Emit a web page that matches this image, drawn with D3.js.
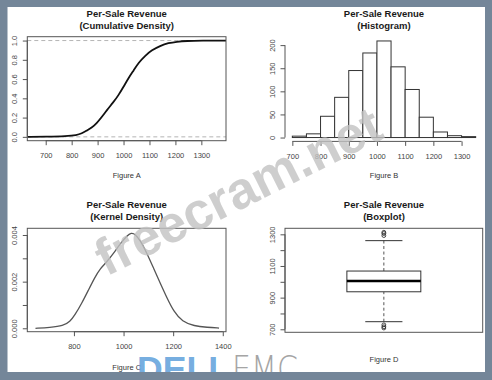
<!DOCTYPE html>
<html>
<head>
<meta charset="UTF-8">
<title>Per-Sale Revenue</title>
<script src="https://cdn.jsdelivr.net/npm/d3@7"></script>
<style>
body {
  margin: 0;
  background: #fff;
}
svg {
  display: block;
  font-family: "Liberation Sans", Arial, sans-serif;
}
.title {
  font-weight: bold;
  font-size: 9.5px;
  fill: #1a1a1a;
  text-anchor: middle;
}
.fig {
  font-size: 7.5px;
  fill: #333;
  text-anchor: middle;
}
.frame {
  fill: none;
  stroke: #555;
  stroke-width: 1;
}
.axis text {
  font-size: 7.5px;
  fill: #444;
  font-family: "Liberation Sans", Arial, sans-serif;
}
.axis line, .axis .spine {
  stroke: #555;
  stroke-width: 1;
}
</style>
</head>
<body>
<svg width="492" height="380"></svg>
<script>
// Figure A : empirical cumulative density
var cdfRevenue = [630, 700, 781, 819, 839, 858, 877, 896, 916, 935, 961, 980, 1000, 1019, 1039, 1058, 1084, 1109, 1141, 1173, 1205, 1243, 1300, 1395];
var cdfShare   = [0, 0.002, 0.007, 0.017, 0.035, 0.065, 0.094, 0.14, 0.205, 0.275, 0.36, 0.43, 0.52, 0.61, 0.69, 0.77, 0.845, 0.9, 0.945, 0.975, 0.988, 0.996, 0.999, 1.0];

// Figure B : histogram, bins of 50
var binStart = [700, 750, 800, 850, 900, 950, 1000, 1050, 1100, 1150, 1200, 1250, 1300];
var binCount = [3, 8, 46, 87, 145, 183, 209, 153, 104, 44, 12, 4, 2];

// Figure C : kernel density
var densRevenue = [645, 703, 757, 784, 804, 831, 858, 885, 905, 932, 959, 986, 1014, 1031, 1047, 1068, 1095, 1122, 1149, 1176, 1203, 1237, 1284, 1338, 1385];
var densValue   = [0, 0.00004, 0.0001, 0.00028, 0.00057, 0.00106, 0.00163, 0.0022, 0.00255, 0.00284, 0.0032, 0.00362, 0.00397, 0.0041, 0.00404, 0.00376, 0.0032, 0.00255, 0.00191, 0.00128, 0.00071, 0.00028, 0.0001, 0.00004, 0.00001];

// Figure D : boxplot (lower whisker, Q1, median, Q3, upper whisker)
var boxStats = [748, 937, 1005, 1068, 1260];
var boxOutliers = [1313, 1305, 1292, 728, 716, 708];

var svg = d3.select("svg");
svg.append("rect").attr("width", 492).attr("height", 380).attr("fill", "#fff");

function title(cx, y, l1, l2, fig, fy) {
  svg.append("text").attr("class", "title").attr("x", cx).attr("y", y).text(l1);
  svg.append("text").attr("class", "title").attr("x", cx).attr("y", y + 12).text(l2);
  svg.append("text").attr("class", "fig").attr("x", cx).attr("y", fy).text(fig);
}

// R style axes: spine only between first and last tick, labels parallel to axis
function xAxis(scale, y, ticks, fmt) {
  var g = svg.append("g").attr("class", "axis").attr("transform", "translate(0," + y + ")")
    .call(d3.axisBottom(scale).tickValues(ticks).tickSize(4.5).tickPadding(7.5).tickFormat(fmt));
  g.select(".domain").remove();
  g.append("line").attr("class", "spine")
    .attr("x1", scale(ticks[0])).attr("x2", scale(ticks[ticks.length - 1]));
}
function yAxis(scale, x, ticks, fmt) {
  var g = svg.append("g").attr("class", "axis").attr("transform", "translate(" + x + ",0)")
    .call(d3.axisLeft(scale).tickValues(ticks).tickSize(4.5).tickFormat(fmt));
  g.select(".domain").remove();
  g.selectAll(".tick text")
    .attr("x", 0).attr("y", -10.5).attr("dy", 0)
    .attr("text-anchor", "middle").attr("transform", "rotate(-90)");
  g.append("line").attr("class", "spine")
    .attr("y1", scale(ticks[0])).attr("y2", scale(ticks[ticks.length - 1]));
}
function frame(xs, ys) {
  svg.append("rect").attr("class", "frame")
    .attr("x", xs.range()[0]).attr("y", ys.range()[1])
    .attr("width", xs.range()[1] - xs.range()[0])
    .attr("height", ys.range()[0] - ys.range()[1]);
}

// ---- Figure A
var xA = d3.scaleLinear().domain([629, 1395]).range([27.3, 226]),
  yA = d3.scaleLinear().domain([-0.04, 1.04]).range([140.7, 36.7]);
[0, 1].forEach(function(v) {
  svg.append("line").attr("x1", xA.range()[0]).attr("x2", xA.range()[1])
    .attr("y1", yA(v)).attr("y2", yA(v))
    .attr("stroke", "#b5b5b5").attr("stroke-dasharray", "4,3");
});
svg.append("path")
  .datum(d3.range(cdfRevenue.length))
  .attr("fill", "none").attr("stroke", "#111").attr("stroke-width", 1.8)
  .attr("d", d3.line().curve(d3.curveBasis)
    .x(function(i) { return xA(cdfRevenue[i]); })
    .y(function(i) { return yA(cdfShare[i]); }));
frame(xA, yA);
xAxis(xA, yA.range()[0], [700, 800, 900, 1000, 1100, 1200, 1300], d3.format("d"));
yAxis(yA, xA.range()[0], [0, 0.2, 0.4, 0.6, 0.8, 1.0], d3.format(".1f"));
title(126.7, 16.5, "Per-Sale Revenue", "(Cumulative Density)", "Figure A", 178);

// ---- Figure B
var xB = d3.scaleLinear().domain([674, 1376]).range([285, 483]),
  yB = d3.scaleLinear().domain([-8.36, 217.36]).range([141.4, 37.1]);
svg.append("g").selectAll("rect").data(binStart).join("rect")
  .attr("x", function(d) { return xB(d); })
  .attr("width", function(d) { return xB(d + 50) - xB(d); })
  .attr("y", function(d, i) { return yB(binCount[i]); })
  .attr("height", function(d, i) { return yB(0) - yB(binCount[i]); })
  .attr("fill", "#fff").attr("stroke", "#333").attr("stroke-width", 1);
xAxis(xB, yB.range()[0], [700, 800, 900, 1000, 1100, 1200, 1300], d3.format("d"));
yAxis(yB, xB.range()[0], [0, 50, 100, 150, 200], d3.format("d"));
title(384, 16.5, "Per-Sale Revenue", "(Histogram)", "Figure B", 178);

// ---- Figure C
var xC = d3.scaleLinear().domain([612, 1413]).range([27.3, 226]),
  yC = d3.scaleLinear().domain([-0.000146, 0.004287]).range([331.7, 228.3]);
svg.append("path")
  .datum(d3.range(densRevenue.length))
  .attr("fill", "none").attr("stroke", "#555").attr("stroke-width", 1.3)
  .attr("d", d3.line().curve(d3.curveBasis)
    .x(function(i) { return xC(densRevenue[i]); })
    .y(function(i) { return yC(densValue[i]); }));
frame(xC, yC);
xAxis(xC, yC.range()[0], [800, 1000, 1200, 1400], d3.format("d"));
yAxis(yC, xC.range()[0], [0, 0.001, 0.002, 0.003, 0.004], function(d, i) { return i % 2 ? "" : d3.format(".3f")(d); });
title(126.7, 207.5, "Per-Sale Revenue", "(Kernel Density)", "Figure C", 369.5);

// ---- Figure D
var xD = d3.scaleLinear().domain([0.5, 1.5]).range([285, 482.7]),
  yD = d3.scaleLinear().domain([681, 1338]).range([332.3, 228.3]);
var gD = svg.append("g");
// whiskers
[[boxStats[0], boxStats[1]], [boxStats[3], boxStats[4]]].forEach(function(w) {
  gD.append("line").attr("x1", xD(1)).attr("x2", xD(1))
    .attr("y1", yD(w[0])).attr("y2", yD(w[1]))
    .attr("stroke", "#555").attr("stroke-dasharray", "3,2.5");
});
[boxStats[0], boxStats[4]].forEach(function(v) {
  gD.append("line").attr("x1", xD(0.906)).attr("x2", xD(1.094))
    .attr("y1", yD(v)).attr("y2", yD(v)).attr("stroke", "#333");
});
gD.append("rect")
  .attr("x", xD(0.813)).attr("width", xD(1.187) - xD(0.813))
  .attr("y", yD(boxStats[3])).attr("height", yD(boxStats[1]) - yD(boxStats[3]))
  .attr("fill", "#fff").attr("stroke", "#333");
gD.append("line").attr("x1", xD(0.813)).attr("x2", xD(1.187))
  .attr("y1", yD(boxStats[2])).attr("y2", yD(boxStats[2]))
  .attr("stroke", "#000").attr("stroke-width", 2.4);
gD.selectAll("circle").data(boxOutliers).join("circle")
  .attr("cx", xD(1)).attr("cy", function(d) { return yD(d); }).attr("r", 1.9)
  .attr("fill", "none").attr("stroke", "#333").attr("stroke-width", 0.9);
frame(xD, yD);
yAxis(yD, xD.range()[0], [700, 800, 900, 1000, 1100, 1200, 1300], function(d) { return (d - 700) % 200 ? "" : d; });
title(384, 207.5, "Per-Sale Revenue", "(Boxplot)", "Figure D", 362);

// ---- watermark and logo
svg.append("text")
  .attr("transform", "translate(246,207) rotate(-26.5)")
  .attr("text-anchor", "middle")
  .style("font-family", "'Liberation Sans', Arial, sans-serif")
  .style("font-weight", "bold").style("font-size", "52px")
  .attr("fill", "#c2c2c2").attr("fill-opacity", 0.8)
  .text("freecram.net");
svg.append("text").attr("x", 137).attr("y", 381)
  .style("font-family", "'Liberation Sans', Arial, sans-serif")
  .style("font-weight", "bold").style("font-size", "35.6px")
  .attr("fill", "#64a3dc").attr("fill-opacity", 0.9)
  .attr("textLength", 93).attr("lengthAdjust", "spacingAndGlyphs")
  .text("DELL");
svg.append("text").attr("x", 232).attr("y", 381)
  .style("font-family", "'DejaVu Sans', sans-serif")
  .style("font-weight", "200").style("font-size", "35px")
  .attr("fill", "#a5a5a5")
  .attr("textLength", 66).attr("lengthAdjust", "spacingAndGlyphs")
  .text("EMC");

// outer slate frame
var border = "#748699";
svg.append("rect").attr("x", 0).attr("y", 0).attr("width", 492).attr("height", 7).attr("fill", border);
svg.append("rect").attr("x", 0).attr("y", 372).attr("width", 492).attr("height", 8).attr("fill", border);
svg.append("rect").attr("x", 0).attr("y", 0).attr("width", 7.5).attr("height", 380).attr("fill", border);
svg.append("rect").attr("x", 485).attr("y", 0).attr("width", 7).attr("height", 380).attr("fill", border);
</script>
</body>
</html>
